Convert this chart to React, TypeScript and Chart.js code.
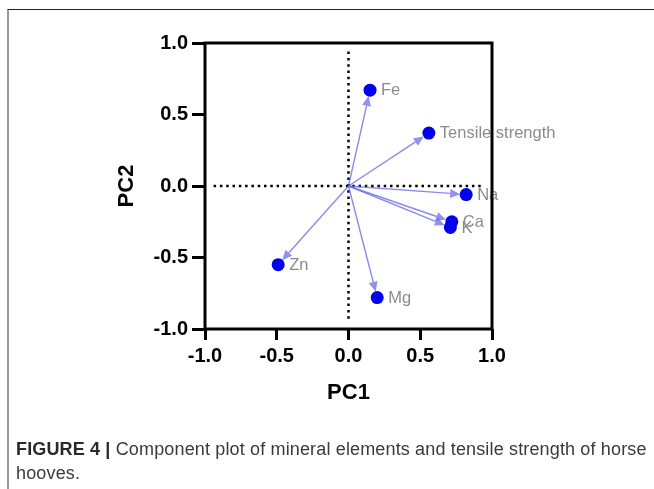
import React, { useEffect, useRef } from 'react';
import { Chart, registerables } from 'chart.js';

Chart.register(...registerables);

// ---- data ----
const variableNames = ['Fe', 'Tensile strength', 'Na', 'Ca', 'K', 'Zn', 'Mg'];
const pc1Loadings = [0.15, 0.56, 0.82, 0.72, 0.71, -0.49, 0.2];
const pc2Loadings = [0.67, 0.37, -0.06, -0.25, -0.29, -0.55, -0.78];
const axisMin = -1;
const axisMax = 1;
const axisStep = 0.5;
const refLineExtent = 0.94;
const xTitle = 'PC1';
const yTitle = 'PC2';

const FONT = '"Liberation Sans", Arial, Helvetica, sans-serif';

const biplotPlugin = {
  id: 'biplot',
  beforeDatasetsDraw(chart: any) {
    const { ctx, scales } = chart;
    const xs = scales.x;
    const ys = scales.y;
    const x0 = xs.getPixelForValue(0);
    const y0 = ys.getPixelForValue(0);
    ctx.save();
    // dotted reference lines
    ctx.strokeStyle = '#000';
    ctx.lineWidth = 2.5;
    ctx.setLineDash([2.5, 3.8]);
    ctx.beginPath();
    ctx.moveTo(xs.getPixelForValue(-refLineExtent), y0);
    ctx.lineTo(xs.getPixelForValue(refLineExtent), y0);
    ctx.moveTo(x0, ys.getPixelForValue(refLineExtent));
    ctx.lineTo(x0, ys.getPixelForValue(-refLineExtent));
    ctx.stroke();
    ctx.setLineDash([]);
    // arrows
    const r = 6;
    const headLen = 10;
    const headHalf = 4.5;
    for (let i = 0; i < pc1Loadings.length; i++) {
      const px = xs.getPixelForValue(pc1Loadings[i]);
      const py = ys.getPixelForValue(pc2Loadings[i]);
      const dx = px - x0;
      const dy = py - y0;
      const len = Math.sqrt(dx * dx + dy * dy);
      const ux = dx / len;
      const uy = dy / len;
      const tx = px - ux * r;
      const ty = py - uy * r;
      const bx = tx - ux * headLen;
      const by = ty - uy * headLen;
      ctx.strokeStyle = 'rgba(100,100,225,0.75)';
      ctx.lineWidth = 1.4;
      ctx.beginPath();
      ctx.moveTo(x0, y0);
      ctx.lineTo(bx, by);
      ctx.stroke();
      ctx.fillStyle = 'rgba(100,100,225,0.7)';
      ctx.beginPath();
      ctx.moveTo(tx, ty);
      ctx.lineTo(bx - uy * headHalf, by + ux * headHalf);
      ctx.lineTo(bx + uy * headHalf, by - ux * headHalf);
      ctx.closePath();
      ctx.fill();
    }
    ctx.restore();
  },
  afterDatasetsDraw(chart: any) {
    const { ctx, chartArea, scales } = chart;
    const xs = scales.x;
    const ys = scales.y;
    ctx.save();
    ctx.fillStyle = '#8c8c8c';
    ctx.font = '16.5px ' + FONT;
    ctx.textAlign = 'left';
    ctx.textBaseline = 'middle';
    for (let i = 0; i < variableNames.length; i++) {
      const px = xs.getPixelForValue(pc1Loadings[i]);
      const py = ys.getPixelForValue(pc2Loadings[i]);
      ctx.fillText(variableNames[i], px + 11, py + 0.5);
    }
    // frame
    ctx.strokeStyle = '#000';
    ctx.lineWidth = 3;
    ctx.strokeRect(
      chartArea.left,
      chartArea.top,
      chartArea.right - chartArea.left,
      chartArea.bottom - chartArea.top
    );
    ctx.restore();
  },
};

export default function App() {
  const canvasRef = useRef<HTMLCanvasElement | null>(null);

  useEffect(() => {
    if (!canvasRef.current) return;
    const points = pc1Loadings.map((x, i) => ({ x, y: pc2Loadings[i] }));
    const tickFont = { family: FONT, size: 20, weight: 'bold' as const };
    const titleFont = { family: FONT, size: 22, weight: 'bold' as const, lineHeight: 1.2 };
    const fmt = (v: any) => {
      const n = Number(v);
      return (Math.abs(n) < 1e-9 ? 0 : n).toFixed(1);
    };
    const chart = new Chart(canvasRef.current, {
      type: 'scatter',
      data: {
        datasets: [
          {
            data: points,
            backgroundColor: '#0000ee',
            borderWidth: 0,
            pointRadius: 6.5,
            pointHoverRadius: 6.5,
            clip: false as any,
          },
        ],
      },
      plugins: [biplotPlugin],
      options: {
        responsive: false,
        animation: false,
        events: [],
        layout: { padding: { left: 0, top: 43, right: 162, bottom: 0 } },
        plugins: { legend: { display: false }, tooltip: { enabled: false } },
        scales: {
          x: {
            type: 'linear',
            min: axisMin,
            max: axisMax,
            border: { display: false },
            grid: {
              drawOnChartArea: false,
              drawTicks: true,
              tickLength: 11,
              lineWidth: 3,
              color: '#000',
            },
            ticks: {
              stepSize: axisStep,
              color: '#000',
              font: tickFont,
              padding: 4,
              maxRotation: 0,
              autoSkip: false,
              callback: fmt,
            },
            title: {
              display: true,
              text: xTitle,
              color: '#000',
              font: titleFont,
              padding: { top: 0, bottom: 96 - 13.2 },
            },
            afterFit: (scale: any) => {
              scale.height = 160;
            },
          },
          y: {
            type: 'linear',
            min: axisMin,
            max: axisMax,
            border: { display: false },
            grid: {
              drawOnChartArea: false,
              drawTicks: true,
              tickLength: 13,
              lineWidth: 3,
              color: '#000',
            },
            ticks: {
              stepSize: axisStep,
              color: '#000',
              font: tickFont,
              padding: 4,
              autoSkip: false,
              callback: fmt,
            },
            title: {
              display: true,
              text: yTitle,
              color: '#000',
              font: titleFont,
              padding: { top: 127 - 13.2, bottom: 0 },
            },
            afterFit: (scale: any) => {
              scale.width = 205;
            },
          },
        },
      },
    });
    return () => chart.destroy();
  }, []);

  return (
    <div
      style={{
        position: 'absolute',
        left: 0,
        top: 0,
        width: 654,
        height: 489,
        overflow: 'hidden',
        background: '#fff',
      }}
    >
      <div
        style={{
          position: 'absolute',
          left: 7,
          top: 9,
          width: 660,
          height: 500,
          borderTop: '1.5px solid #222',
          borderLeft: '2px solid #999',
        }}
      />
      <canvas
        ref={canvasRef}
        width={654}
        height={489}
        style={{ position: 'absolute', left: 0, top: 0, width: 654, height: 489 }}
      />
      <div
        style={{
          position: 'absolute',
          left: 16,
          top: 437,
          width: 640,
          fontFamily: FONT,
          fontSize: 18,
          letterSpacing: '0.15px',
          lineHeight: '24px',
          color: '#3a3a3a',
          whiteSpace: 'nowrap',
        }}
      >
        <span style={{ fontWeight: 'bold', color: '#2a2a2a' }}>FIGURE 4 |</span> Component plot of
        mineral elements and tensile strength of horse
        <br />
        hooves.
      </div>
    </div>
  );
}
